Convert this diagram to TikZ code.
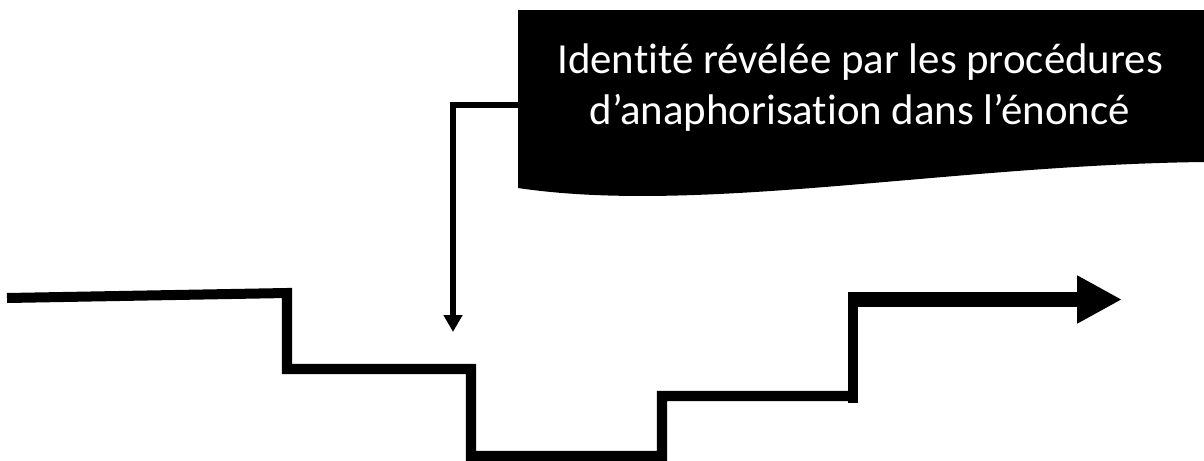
\documentclass[tikz,border=0pt]{standalone}
\usepackage{fontspec}
\setmainfont[Ligatures=NoCommon]{Carlito}
\usepackage{tikz}
\usetikzlibrary{arrows.meta,positioning,calc}

\begin{document}
\begin{tikzpicture}[
    x=0.02cm, y=-0.02cm,
    callout/.style={fill=black, draw=none},
    calltext/.style={text=white, align=center, font=\fontsize{24.4pt}{28.9pt}\selectfont, inner sep=0pt},
    steps/.style={line width=5.7pt, line join=miter},
    pointer/.style={-{Triangle[width=10.2pt, length=9.6pt]}, line width=2.9pt},
    bigarrow/.style={-{Triangle[width=25.5pt, length=25.5pt]}, line width=8.5pt}
]
    \useasboundingbox (0,0) rectangle (1204,460);

    % Callout
    \path[callout] (518,10) -- (1204,10) -- (1204,162)
        .. controls (950,165) and (700,215) .. (518,188) -- cycle;
    \node[calltext, anchor=base] (ident) at (860,124)
        {Identité révélée par les procédures\\d’anaphorisation dans l’énoncé};
    \coordinate (calloutwest) at (518,105);
    \coordinate (drop) at (453,332);

    % Steps
    \coordinate (start) at (7,298);
    \coordinate (rise) at (853,403);
    \coordinate (corner) at (853,299.5);
    \coordinate (goal) at (1122,299.5);
    \draw[steps] (start) -- (287,293) -- (287,369) -- (471,369) -- (471,456)
        -- (662,456) -- (662,396) -- (848,396);
    \draw[steps] (rise) -- (corner);
    \draw[bigarrow] ($(corner)+(-5,0)$) -- (goal);

    % Pointer
    \draw[pointer] (calloutwest) -| (drop);

\end{tikzpicture}
\end{document}
